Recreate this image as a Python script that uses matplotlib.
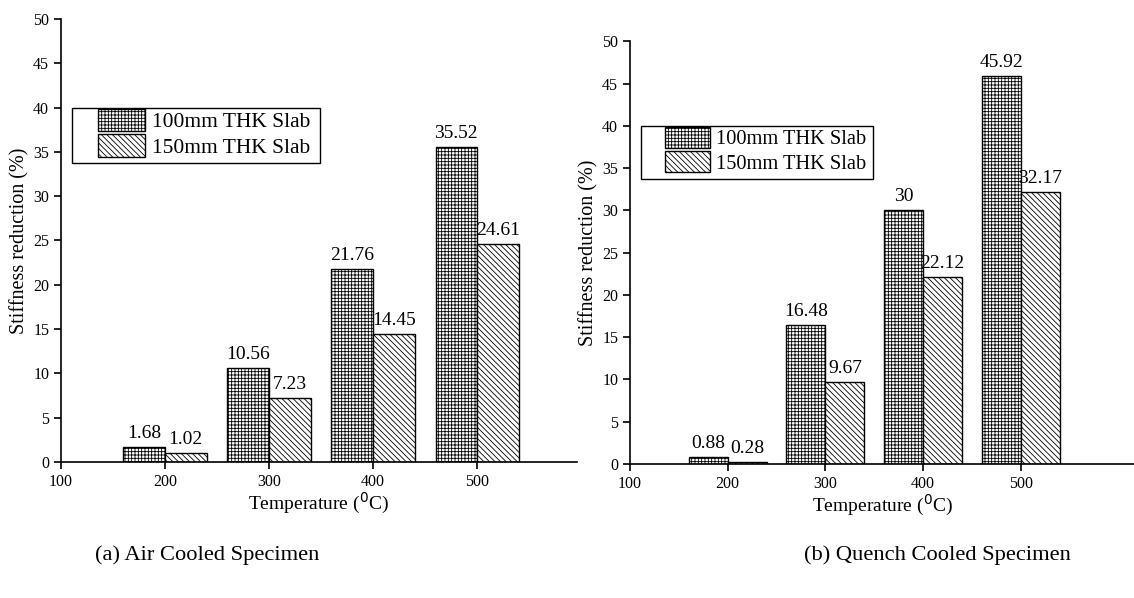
import numpy as np
import matplotlib.pyplot as plt
from matplotlib.patches import Rectangle

plt.rcParams['font.family'] = ['Liberation Serif', 'DejaVu Serif']
plt.rcParams['hatch.linewidth'] = 0.6

temps = [200, 300, 400, 500]
air_100 = [1.68, 10.56, 21.76, 35.52]
air_150 = [1.02, 7.23, 14.45, 24.61]
quench_100 = [0.88, 16.48, 30, 45.92]
quench_150 = [0.28, 9.67, 22.12, 32.17]
labels_100 = ['1.68', '10.56', '21.76', '35.52']
labels_150 = ['1.02', '7.23', '14.45', '24.61']
qlabels_100 = ['0.88', '16.48', '30', '45.92']
qlabels_150 = ['0.28', '9.67', '22.12', '32.17']

W, H = 1134, 598


def draw_panel(ax, v100, v150, l100, l150, xmax):
    t = np.array(temps)
    width = 40
    b1 = ax.bar(t - width / 2, v100, width, color='white', edgecolor='black',
                hatch='+++++', linewidth=1.0, label='100mm THK Slab')
    b2 = ax.bar(t + width / 2, v150, width, color='white', edgecolor='black',
                hatch='\\\\\\\\\\\\', linewidth=1.0, label='150mm THK Slab')
    for rect, s in zip(b1, l100):
        ax.text(rect.get_x() + rect.get_width() / 2, rect.get_height() + 0.6, s,
                ha='center', va='bottom', fontsize=14)
    for rect, s in zip(b2, l150):
        ax.text(rect.get_x() + rect.get_width() / 2, rect.get_height() + 0.6, s,
                ha='center', va='bottom', fontsize=14)
    ax.set_xlim(100, xmax)
    ax.set_ylim(0, 50)
    ax.set_xticks([100, 200, 300, 400, 500])
    ax.set_yticks(np.arange(0, 51, 5))
    ax.spines['top'].set_visible(False)
    ax.spines['right'].set_visible(False)
    ax.spines['left'].set_linewidth(1.2)
    ax.spines['bottom'].set_linewidth(1.2)
    ax.tick_params(direction='out', length=5, width=1.2, labelsize=11.5)
    ax.set_xlabel('Temperature ($^{0}$C)', fontsize=14, labelpad=1)
    ax.set_ylabel('Stiffness reduction (%)', fontsize=14.5, labelpad=3)


def add_legend(ax, box, handle_x, top_y, size):
    # box: (left, top, right, bottom) in pixels from top-left of the figure
    l, t, r, b = box
    fig.add_artist(Rectangle((l / W, 1 - b / H), (r - l) / W, (b - t) / H,
                             transform=fig.transFigure, fill=False,
                             edgecolor='black', linewidth=1.0))
    ax.legend(loc='upper left', bbox_to_anchor=(handle_x / W, 1 - top_y / H),
              bbox_transform=fig.transFigure, fontsize=size, frameon=False,
              borderpad=0, handlelength=2.2, handleheight=1.2, labelspacing=0.1,
              handletextpad=0.3, borderaxespad=0)


fig = plt.figure(figsize=(11.34, 5.98), dpi=100)

ax1 = fig.add_axes([0.0538, 0.2274, 0.455, 0.741])
draw_panel(ax1, air_100, air_150, labels_100, labels_150, 596)
add_legend(ax1, (72, 108, 320, 163), 98, 109, 15.5)

ax2 = fig.add_axes([0.5556, 0.224, 0.4445, 0.707])
draw_panel(ax2, quench_100, quench_150, qlabels_100, qlabels_150, 616)
add_legend(ax2, (641, 126, 873, 179), 665, 127, 14.7)

fig.text(0.084, 0.072, '(a) Air Cooled Specimen', fontsize=16.2, ha='left', va='center')
fig.text(0.709, 0.072, '(b) Quench Cooled Specimen', fontsize=16.2, ha='left', va='center')

fig.savefig('out.png', dpi=100)
